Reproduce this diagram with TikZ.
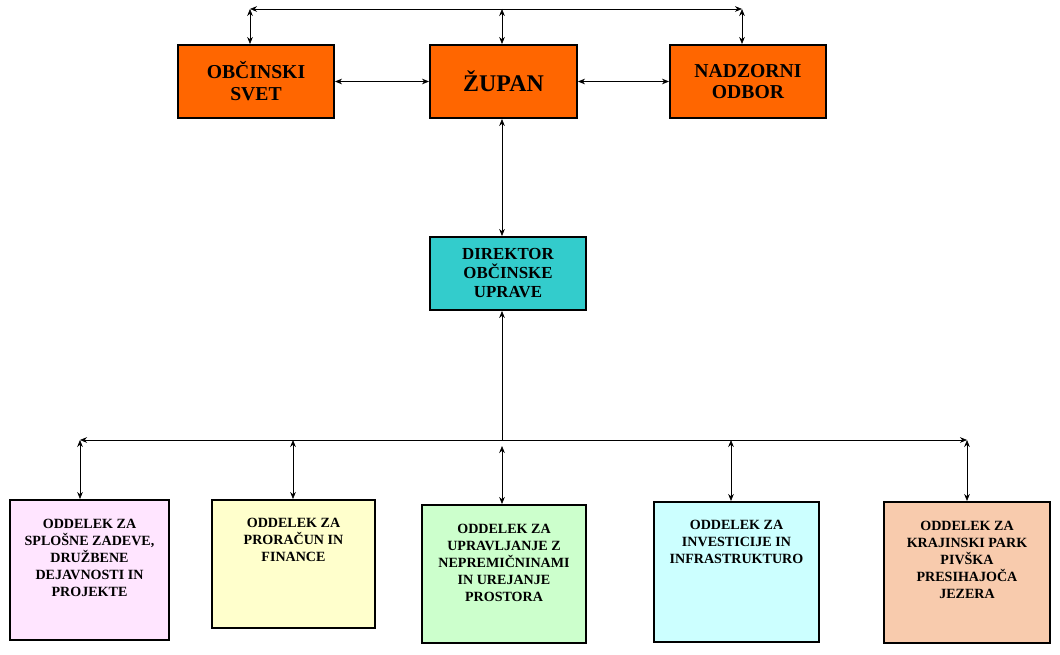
\documentclass[tikz,border=0pt]{standalone}
\usepackage{fontspec}
\setmainfont{Liberation Serif}
\usetikzlibrary{arrows.meta}
\definecolor{orgorange}{HTML}{FF6600}
\definecolor{orgteal}{HTML}{33CCCC}
\definecolor{orgpink}{HTML}{FFE5FF}
\definecolor{orgyellow}{HTML}{FFFFCC}
\definecolor{orggreen}{HTML}{CCFFCC}
\definecolor{orgcyan}{HTML}{CCFFFF}
\definecolor{orgpeach}{HTML}{F8CBAD}
\tikzset{
  box/.style={draw, line width=1.4pt, inner sep=0pt},
  top/.style={box, fill=orgorange, minimum width=156\unitlen, minimum height=73\unitlen,
    align=center, font=\fontsize{14}{15.5}\selectfont\bfseries},
  dept/.style={box, minimum width=162\unitlen},
  depttext/.style={anchor=north, align=center, yshift=-11pt, font=\fontsize{10}{12}\selectfont\bfseries},
  conn/.style={{Stealth[length=5pt,width=4pt]}-{Stealth[length=5pt,width=4pt]}, line width=0.5pt}
}
\newcommand{\unitlen}{*0.025cm}
\begin{document}
\begin{tikzpicture}[x=0.025cm,y=-0.025cm]
  \useasboundingbox (0,0) rectangle (1060,655);
  % upper level
  \node[top] (svet) at (256,81.5) {OBČINSKI\\SVET};
  \node[top, minimum width=147*0.025cm, font=\fontsize{17}{18}\selectfont\bfseries] (zupan) at (503.5,81.5) {ŽUPAN};
  \node[top] (odbor) at (748,81.5) {NADZORNI\\ODBOR};
  \node[box, fill=orgteal, minimum width=156*0.025cm, minimum height=73*0.025cm,
    align=center, font=\fontsize{12}{13.5}\selectfont\bfseries] (direktor) at (508,273.5) {DIREKTOR\\OBČINSKE\\UPRAVE};
  \coordinate (tl) at (250,9);
  \coordinate (tm) at (502,9);
  \coordinate (tr) at (742,9);
  \draw[conn] (tl) -- (tr);
  \draw[conn] (tl) -- (tl |- svet.north);
  \draw[conn] (tm) -- (tm |- zupan.north);
  \draw[conn] (tr) -- (tr |- odbor.north);
  \draw[conn] (svet.east) -- (zupan.west);
  \draw[conn] (zupan.east) -- (odbor.west);
  \draw[conn] (zupan.south -| 502,0) -- (direktor.north -| 502,0);
  % departments
  \node[dept, fill=orgpink, minimum width=159*0.025cm, minimum height=140*0.025cm] (d1) at (89.5,570) {};
  \node[dept, fill=orgyellow, minimum width=163*0.025cm, minimum height=128*0.025cm] (d2) at (293.5,564) {};
  \node[dept, fill=orggreen, minimum width=164*0.025cm, minimum height=138*0.025cm] (d3) at (504,574) {};
  \node[dept, fill=orgcyan, minimum width=165*0.025cm, minimum height=140*0.025cm] (d4) at (736.5,572) {};
  \node[dept, fill=orgpeach, minimum width=166*0.025cm, minimum height=141*0.025cm] (d5) at (967,572.5) {};
  \node[depttext] at (d1.north) {ODDELEK ZA\\SPLOŠNE ZADEVE,\\DRUŽBENE\\DEJAVNOSTI IN\\PROJEKTE};
  \node[depttext, yshift=1pt] at (d2.north) {ODDELEK ZA\\PRORAČUN IN\\FINANCE};
  \node[depttext] at (d3.north) {ODDELEK ZA\\UPRAVLJANJE Z\\NEPREMIČNINAMI\\IN UREJANJE\\PROSTORA};
  \node[depttext, yshift=1pt] at (d4.north) {ODDELEK ZA\\INVESTICIJE IN\\INFRASTRUKTURO};
  \node[depttext] at (d5.north) {ODDELEK ZA\\KRAJINSKI PARK\\PIVŠKA\\PRESIHAJOČA\\JEZERA};
  \coordinate (bl) at (80,440);
  \coordinate (bm) at (502,440);
  \coordinate (br) at (967,440);
  \draw[conn] (bl) -- (br);
  \draw[-{Stealth[length=5pt,width=4pt]}, line width=0.5pt] (bm) -- (direktor.south -| bm);
  \draw[conn] (bl) -- (bl |- d1.north);
  \draw[conn] (293,440) -- (d2.north -| 293,0);
  \draw[conn] (502,446) -- (d3.north -| 502,0);
  \draw[conn] (731,440) -- (d4.north -| 731,0);
  \draw[conn] (br) -- (br |- d5.north);
\end{tikzpicture}
\end{document}
